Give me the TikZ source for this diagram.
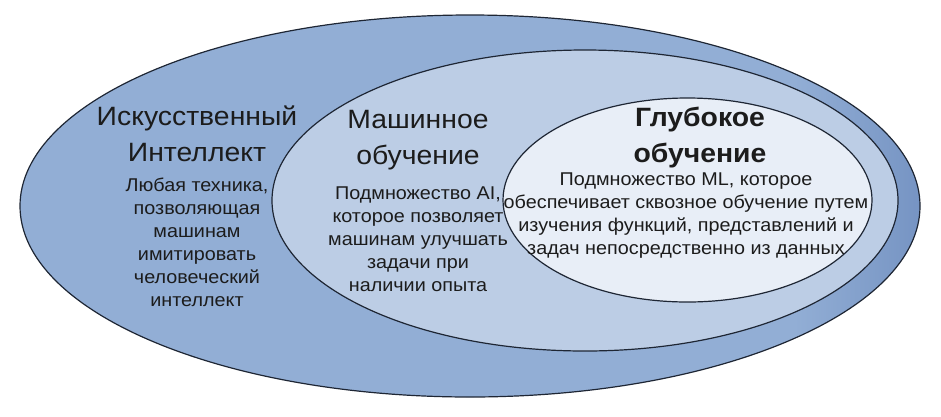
\documentclass[tikz,border=0pt]{standalone}
\usepackage{fontspec}
\setmainfont{Liberation Sans}[FakeStretch=1.07]
\usetikzlibrary{shapes.geometric}
\definecolor{outerfill}{RGB}{146,174,213}
\definecolor{outerdark}{RGB}{118,148,195}
\definecolor{midfill}{RGB}{188,205,229}
\definecolor{innerfill}{RGB}{232,238,247}
\definecolor{edge}{RGB}{30,38,52}
\definecolor{txt}{RGB}{28,28,28}
\pgfdeclarehorizontalshading{outershade}{100bp}{color(0bp)=(outerfill); color(25bp)=(outerfill); color(68bp)=(outerfill); color(75bp)=(outerdark); color(100bp)=(outerdark)}
\tikzset{
  ring/.style={ellipse, draw=edge, line width=1.2pt, inner sep=0pt},
  title/.style={align=center, text=txt, font=\fontsize{26.5}{36}\selectfont},
  body/.style={align=center, text=txt, font=\fontsize{18.5}{23}\selectfont}
}
\begin{document}
\begin{tikzpicture}[x=1pt,y=-1pt]
\useasboundingbox (0,0) rectangle (941,416);
\node[ring, minimum width=900pt, minimum height=382pt, shading=outershade] (ai) at (470,206) {};
\node[ring, fill=midfill, minimum width=626pt, minimum height=301pt] (ml) at (585,200.5) {};
\node[ring, fill=innerfill, minimum width=369pt, minimum height=204pt] (dl) at (687.5,200) {};
\node[title] (aititle) at (197,134) {Искусственный\\Интеллект};
\node[body] (aibody) at (197,242) {Любая техника,\\позволяющая\\машинам\\имитировать\\человеческий\\интеллект};
\node[title] (mltitle) at (418,140) {Машинное\\обучение};
\node[body] (mlbody) at (418,239) {Подмножество AI,\\которое позволяет\\машинам улучшать\\задачи при\\наличии опыта};
\node[title, font=\fontsize{26.5}{36}\selectfont\bfseries] (dltitle) at (700,138) {Глубокое\\обучение};
\node[body] (dlbody) at (686,216) {Подмножество ML, которое\\обеспечивает сквозное обучение путем\\изучения функций, представлений и\\задач непосредственно из данных};
\end{tikzpicture}
\end{document}
